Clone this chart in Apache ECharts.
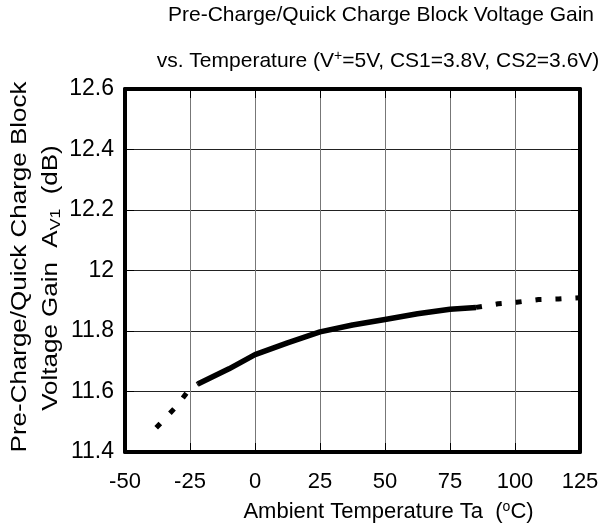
<!DOCTYPE html>
<html>
<head>
<meta charset="utf-8">
<script src="https://cdn.jsdelivr.net/npm/echarts@6/dist/echarts.min.js"></script>
<style>html,body{margin:0;padding:0;background:#fff}#c{width:605px;height:528px}</style>
</head>
<body>
<div id="c"></div>
<script>
// Data
const solidTemps  = [-22, -10, 0, 12.5, 25, 37.5, 50, 62.5, 75, 85];
const solidGain   = [11.625, 11.675, 11.722, 11.761, 11.797, 11.82, 11.838, 11.857, 11.872, 11.878];
const lowDotTemps = [-38, -30, -25, -22];
const lowDotGain  = [11.48, 11.553, 11.61, 11.625];
const highDotTemps = [85, 93.5, 100.6, 109, 116.7, 125];
const highDotGain  = [11.878, 11.89, 11.895, 11.904, 11.906, 11.91];
const xTicks = [-50, -25, 0, 25, 50, 75, 100, 125];
const yTicks = [11.4, 11.6, 11.8, 12, 12.2, 12.4, 12.6];

const pair = (xs, ys) => xs.map((x, i) => [x, ys[i]]);
const FONT = 'Liberation Sans, Arial, sans-serif';

const chart = echarts.init(document.getElementById('c'), null, {renderer: 'canvas'});
const lineStyleSolid = {color: '#000', width: 5.5, cap: 'butt', join: 'round'};
const lineStyleDot = {color: '#000', width: 5, type: [6, 14], cap: 'butt'};
const tickIn = {show: true, inside: true, length: 9, lineStyle: {color: '#000', width: 1}};

chart.setOption({
  animation: false,
  backgroundColor: '#fff',
  grid: {left: 125, right: 25, top: 89, bottom: 76, containLabel: false, outerBoundsMode: 'none'},
  xAxis: [{
    type: 'value', min: -50, max: 125, interval: 25,
    axisLine: {show: true, onZero: false, lineStyle: {color: '#000', width: 4}},
    axisTick: tickIn,
    splitLine: {show: true, showMinLine: false, showMaxLine: false, lineStyle: {color: '#777', width: 1}},
    axisLabel: {color: '#000', fontFamily: FONT, fontSize: 22, margin: 19,
      formatter: v => xTicks.includes(v) ? String(v) : ''},
    name: '{a|Ambient Temperature Ta  (}{sup|o}{a|C)}',
    nameLocation: 'middle', nameGap: 48,
    nameTextStyle: {padding: [0, 0, 0, 72], rich: {
      a: {fontFamily: FONT, fontSize: 22, color: '#000', lineHeight: 24},
      sup: {fontFamily: FONT, fontSize: 14, color: '#000', verticalAlign: 'top', lineHeight: 12}
    }}
  }, {
    type: 'value', position: 'top', min: -50, max: 125, interval: 25,
    axisLine: {show: true, onZero: false, lineStyle: {color: '#000', width: 4}},
    axisTick: tickIn, axisLabel: {show: false}, splitLine: {show: false}
  }],
  yAxis: [{
    type: 'value', min: 11.4, max: 12.6, interval: 0.2,
    axisLine: {show: true, onZero: false, lineStyle: {color: '#000', width: 4}},
    axisTick: tickIn,
    splitLine: {show: true, showMinLine: false, showMaxLine: false, lineStyle: {color: '#222', width: 1}},
    axisLabel: {color: '#000', fontFamily: FONT, fontSize: 23, margin: 11, padding: [0, 0, 5, 0],
      formatter: v => { const t = yTicks.find(y => Math.abs(y - v) < 1e-6); return t === undefined ? '' : String(t); }}
  }, {
    type: 'value', position: 'right', min: 11.4, max: 12.6, interval: 0.2,
    axisLine: {show: true, onZero: false, lineStyle: {color: '#000', width: 4}},
    axisTick: tickIn, axisLabel: {show: false}, splitLine: {show: false}
  }],
  graphic: [{
    type: 'text', x: 381, y: 15,
    style: {text: 'Pre-Charge/Quick Charge Block Voltage Gain', fontFamily: FONT, fontSize: 21, fill: '#000',
      textAlign: 'center', textVerticalAlign: 'middle'}
  }, {
    type: 'text', x: 378, y: 61,
    style: {text: '{a|vs. Temperature (V}{sup|+}{a|=5V, CS1=3.8V, CS2=3.6V)}',
      textAlign: 'center', textVerticalAlign: 'middle',
      rich: {
        a: {fontFamily: FONT, fontSize: 21, fill: '#000', lineHeight: 24},
        sup: {fontFamily: FONT, fontSize: 14, fill: '#000', verticalAlign: 'top', lineHeight: 10}
      }}
  }, {
    type: 'text', x: 20, y: 267, rotation: Math.PI / 2, scaleX: 1.18,
    style: {text: 'Pre-Charge/Quick Charge Block', fontFamily: FONT, fontSize: 22, fill: '#000',
      textAlign: 'center', textVerticalAlign: 'middle'}
  }, {
    type: 'text', x: 51, y: 278, rotation: Math.PI / 2, scaleX: 1.18,
    style: {text: '{a|Voltage Gain  A}{sub|V1}{a|  (dB)}', textAlign: 'center', textVerticalAlign: 'middle',
      rich: {
        a: {fontFamily: FONT, fontSize: 22, fill: '#000', lineHeight: 24},
        sub: {fontFamily: FONT, fontSize: 15, fill: '#000', verticalAlign: 'bottom', lineHeight: 12}
      }}
  }],
  series: [{
    type: 'line', data: pair(solidTemps, solidGain), showSymbol: false,
    lineStyle: lineStyleSolid, z: 5
  }, {
    type: 'line', data: pair(lowDotTemps, lowDotGain), showSymbol: false,
    lineStyle: lineStyleDot, z: 5
  }, {
    type: 'line', data: pair(highDotTemps, highDotGain), showSymbol: false,
    lineStyle: lineStyleDot, z: 5
  }]
});
</script>
</body>
</html>
